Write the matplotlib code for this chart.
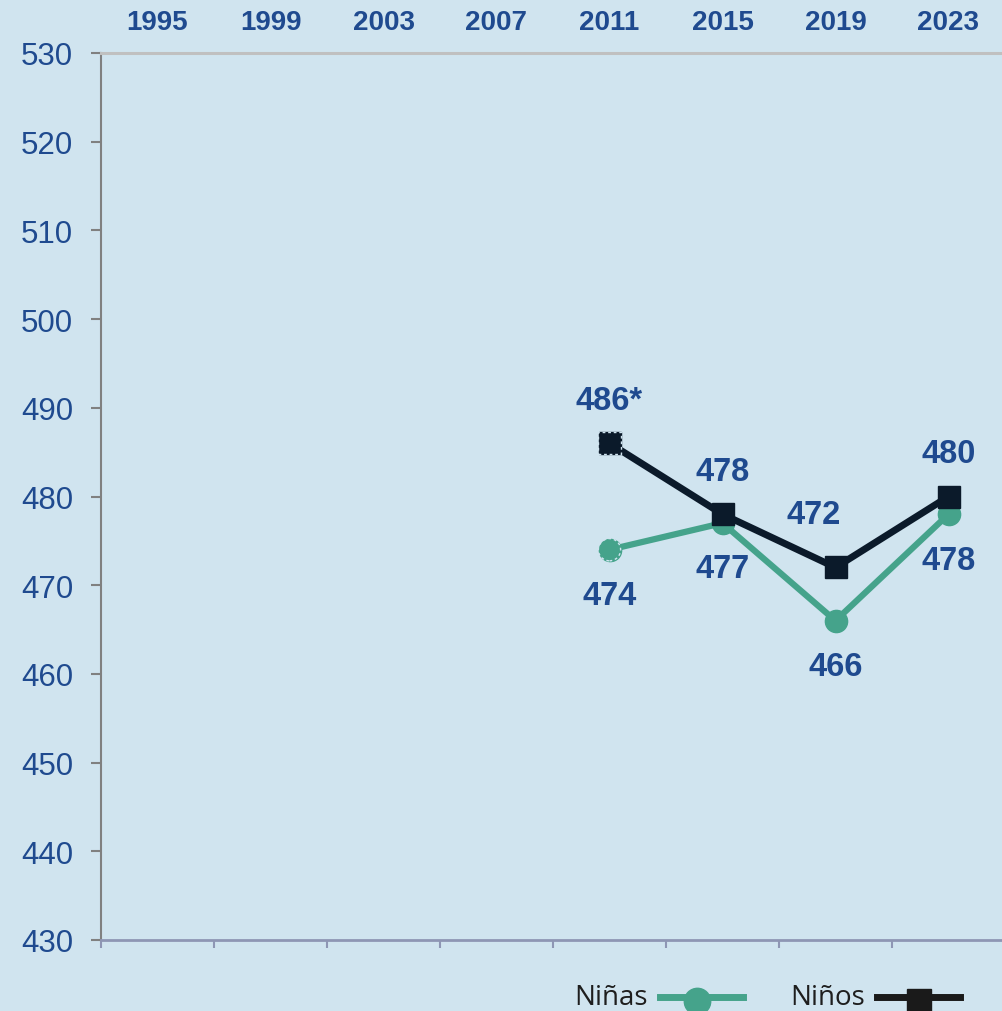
import matplotlib.pyplot as plt
from matplotlib.lines import Line2D
import numpy as np

years = ["1995", "1999", "2003", "2007", "2011", "2015", "2019", "2023"]
ninas = [np.nan, np.nan, np.nan, np.nan, 474, 477, 466, 478]
ninos = [np.nan, np.nan, np.nan, np.nan, 486, 478, 472, 480]
ninos_labels = ["", "", "", "", "486*", "478", "472", "480"]
ninas_labels = ["", "", "", "", "474", "477", "466", "478"]
yticks = list(range(430, 531, 10))

bg = "#d0e4ef"
blue = "#1f4a8f"
teal = "#45a38b"
navy = "#0b1a2a"

plt.rcParams['font.family'] = ['Liberation Sans', 'DejaVu Sans']

fig = plt.figure(figsize=(10.02, 10.12), dpi=100, facecolor=bg)
ax = fig.add_axes([101 / 1002, 71 / 1012, 904 / 1002, 887 / 1012])
ax.set_facecolor(bg)

x = np.arange(len(years))
ax.plot(x, ninas, color=teal, lw=4.5, marker='o', ms=16, zorder=3)
ax.plot(x, ninos, color=navy, lw=5, marker='s', ms=16, zorder=4)

# contorno punteado en los puntos de 2011
ax.scatter([4], [ninas[4]], s=16**2, marker='o', facecolors='none',
           edgecolors=bg, linewidths=1.0, linestyles=(0, (2, 2)), zorder=5)
ax.scatter([4], [ninos[4]], s=16**2, marker='s', facecolors='none',
           edgecolors=bg, linewidths=1.0, linestyles=(0, (2, 2)), zorder=5)

for i in range(len(years)):
    if ninos_labels[i]:
        dx = -16 if i == 6 else 0
        dy = 38 if i == 6 else 31
        ax.annotate(ninos_labels[i], (x[i], ninos[i]), xytext=(dx, dy),
                    textcoords='offset points', ha='center', va='center',
                    fontsize=23.5, fontweight='bold', color=blue)
    if ninas_labels[i]:
        ax.annotate(ninas_labels[i], (x[i], ninas[i]), xytext=(0, -33),
                    textcoords='offset points', ha='center', va='center',
                    fontsize=23.5, fontweight='bold', color=blue)

ax.set_xlim(-0.5, 7.5)
ax.set_ylim(430, 530)
ax.set_yticks(yticks)
ax.set_yticklabels([str(v) for v in yticks])
ax.tick_params(axis='y', length=7, width=1.5, color='#808080', labelsize=22.5,
               labelcolor=blue, pad=13)

ax.set_xticks(x)
ax.set_xticklabels(years)
ax.xaxis.tick_top()
ax.tick_params(axis='x', which='major', length=0, pad=13, labelsize=20,
               labelcolor=blue)
for t in ax.get_xticklabels():
    t.set_fontweight('bold')
ax.set_xticks(np.arange(-0.5, 8, 1), minor=True)
ax.tick_params(axis='x', which='minor', bottom=True, top=False, length=6,
               width=1.5, color='#8e96b4')

ax.spines['top'].set_color('#c0c0c0')
ax.spines['top'].set_linewidth(2.2)
ax.spines['left'].set_color('#808080')
ax.spines['left'].set_linewidth(1.5)
ax.spines['bottom'].set_color('#8e96b4')
ax.spines['bottom'].set_linewidth(2)
ax.spines['right'].set_visible(False)

# leyenda abajo
W, H = 1002, 1012
ly = 1 - 998 / H
fig.text(648 / W, ly, "Niñas", ha='right', va='center', fontsize=20,
         color='#1e1e1e', family=['Open Sans', 'DejaVu Sans'])
fig.add_artist(Line2D([660 / W, 743 / W], [ly, ly], color=teal, lw=5))
fig.add_artist(Line2D([697 / W], [ly - 0.004], color=teal, marker='o', ms=19, lw=0))
fig.text(865 / W, ly, "Niños", ha='right', va='center', fontsize=20,
         color='#1e1e1e', family=['Open Sans', 'DejaVu Sans'])
fig.add_artist(Line2D([877 / W, 960 / W], [ly, ly], color='#1a1a1a', lw=5))
fig.add_artist(Line2D([919 / W], [ly - 0.004], color='#1a1a1a', marker='s', ms=17, lw=0))

fig.savefig("out.png", dpi=100, facecolor=bg)
